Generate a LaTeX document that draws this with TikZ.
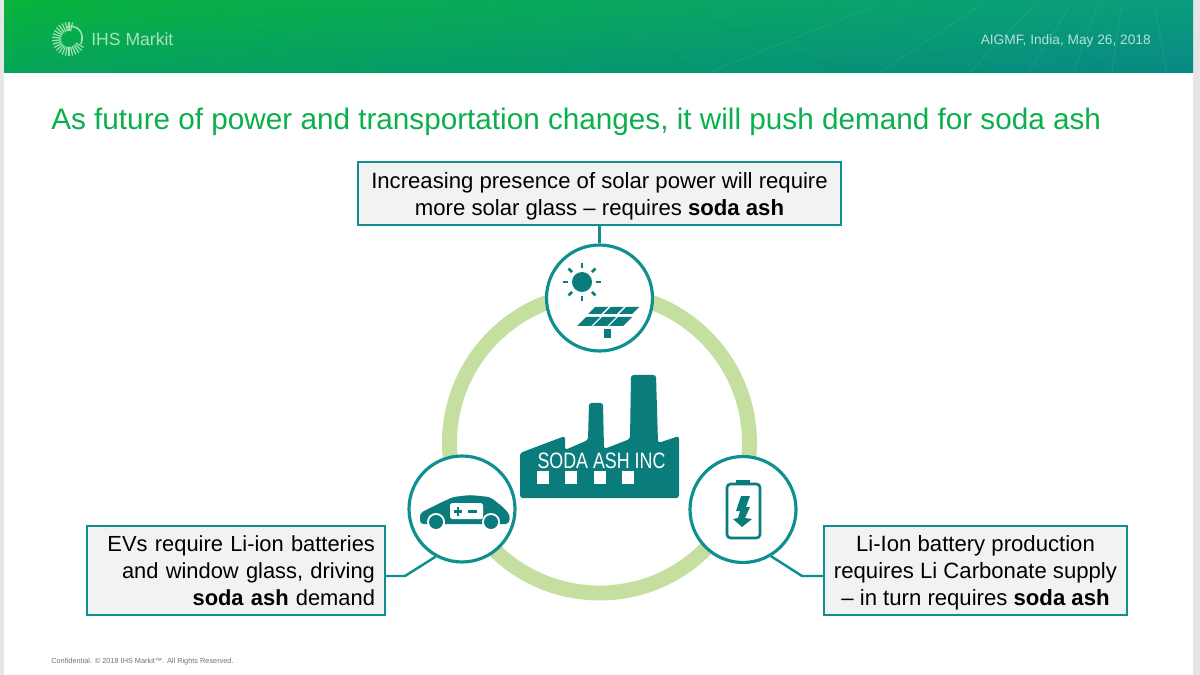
\documentclass[tikz,border=0pt]{standalone}
\usepackage{fontspec}
\setmainfont{Liberation Sans}
\usetikzlibrary{calc, positioning}
\definecolor{tealmain}{HTML}{0B7C7C}
\definecolor{tealline}{HTML}{0F9090}
\definecolor{ringgreen}{HTML}{C5DFA0}
\definecolor{titlegreen}{HTML}{0BAF4C}
\definecolor{headleft}{HTML}{08B33D}
\definecolor{headleftdark}{HTML}{05A558}
\definecolor{headright}{HTML}{0A9C7E}
\definecolor{headrightdark}{HTML}{088A85}
\definecolor{boxgrey}{HTML}{F2F2F2}
\definecolor{pagegrey}{HTML}{E6E6E6}
\tikzset{
  infobox/.style={draw=tealline, line width=1.15pt, fill=boxgrey, inner sep=0pt, align=center, font=\fontsize{12.6}{15.3}\selectfont},
  iconcircle/.style={circle, draw=tealline, line width=1.8pt, fill=white, minimum size=2.12cm, inner sep=0pt},
  linker/.style={draw=tealline, line width=1.4pt},
  iconfill/.style={fill=tealmain, draw=none}
}
\begin{document}
\begin{tikzpicture}[x=0.02cm, y=-0.02cm]
\useasboundingbox (0,0) rectangle (1200,675);

% Page and header
\fill[pagegrey] (0,0) rectangle (1200,675);
\fill[white] (4,6) rectangle (1193,675);
\foreach \i in {0,10,...,100}{
  \fill[left color=headleft!\i!headleftdark, right color=headright!\i!headrightdark] (4,{72-0.66*\i-6}) rectangle (1193,{72-0.66*\i+0.5});
}
\begin{scope}
  \clip (4,6) rectangle (1193,72);
  \coordinate (rayfocus) at (1136,-100);
  \foreach \a in {80,98,110,122,134,146,158}
    \draw[white, opacity=0.07, line width=0.5pt] (rayfocus) -- ++(\a:700);
\end{scope}
\node[text=white!65!headleft, font=\fontsize{10}{12}\selectfont, anchor=west, inner sep=0pt] (brand) at (91,39) {IHS Markit};
\node[text=white!70!headright, font=\fontsize{7.8}{9}\selectfont, anchor=east, inner sep=0pt] (event) at (1151,41) {AIGMF, India, May 26, 2018};

% Logo
\coordinate (logo) at (69,39);
\foreach \a in {30,42,...,290}
  \draw[white!60!headleft, line width=0.7pt] ($(logo)+(\a:8)$) -- ($(logo)+(\a:17)$);
\draw[white!60!headleft, line width=0.9pt] ($(logo)+(-2,-12)$) .. controls ($(logo)+(9,-15)$) and ($(logo)+(16,-6)$) .. ($(logo)+(12,5)$);

% Title
\node[text=titlegreen, font=\fontsize{16.9}{18}\selectfont, anchor=base west, inner sep=0pt] (title) at (51,130) {As future of power and transportation changes, it will push demand for soda ash};

% Ring
\draw[ringgreen, line width=8.5pt] (599.5,443) circle (150);

% Icon circles
\node[iconcircle] (solar) at (599.5,298) {};
\node[iconcircle] (car) at (462,509) {};
\node[iconcircle] (battery) at (743,509.5) {};

% Text boxes
\node[infobox, minimum width=9.68cm, minimum height=1.26cm] (solarbox) at (599.5,193.5) {\rule{0pt}{12.5pt}Increasing presence of solar power will require\\more solar glass -- requires \textbf{soda ash}};
\node[infobox, font=\fontsize{12.45}{15.3}\selectfont, inner xsep=0.2cm, text width=5.56cm, align=right, minimum height=1.78cm] (carbox) at (236,570.5) {EVs require Li-ion batteries\\and window glass, driving\\\textbf{soda ash} demand};
\node[infobox, minimum width=6.06cm, minimum height=1.78cm] (batterybox) at (975.5,570.5) {\rule{0pt}{12pt}Li-Ion battery production\\requires Li Carbonate supply\\-- in turn requires \textbf{soda ash}};

% Connectors
\coordinate (carbend) at (405,576);
\coordinate (batterybend) at (802,576);
\draw[linker] (solarbox) -- (solar);
\draw[linker] (carbox.east |- carbend) -- (carbend) -- (car.241);
\draw[linker] (batterybox.west |- batterybend) -- (batterybend) -- (battery.301);

% Factory
\fill[iconfill, rounded corners=1.5pt] (520,498) -- (679,498) -- (679,436) -- (658,443) -- (656,375) -- (631,375) -- (630,439) -- (604,449) -- (603,403) -- (589,403) -- (588,440) -- (565,450) -- (565,436) -- (520,453) -- cycle;
\node[text=white, font=\fontsize{12.7}{14}\selectfont, inner sep=0pt, xscale=0.8] (company) at (601.5,461) {SODA ASH INC};
\foreach \x in {537,565,594,622}
  \fill[white] (\x,471) rectangle +(11.5,13);

% Sun and panel
\fill[tealmain] (582,282) circle (10);
\foreach \a in {0,45,...,315}
  \draw[tealmain, line width=1.5pt] ($(582,282)+(\a:14)$) -- ($(582,282)+(\a:19)$);
\fill[tealmain] (604,329) rectangle (611,338);
\foreach \i in {0,1,2}{
  \fill[tealmain] ($(595,307)+(\i*15.5,0)$) -- +(13,0) -- +(6,7) -- +(-7,7) -- cycle;
  \fill[tealmain] ($(586,317)+(\i*16,0)$) -- +(14,0) -- +(5,9) -- +(-9,9) -- cycle;
}

% Car
\fill[tealmain, rounded corners=2pt] (420,524) -- (420,513) -- (440,503) -- (453,497) -- (470,495) -- (490,497) -- (503,507) -- (510,515) -- (509,524) -- cycle;
\foreach \x in {436,491}{
  \fill[white] (\x,522) circle (9);
  \fill[tealmain] (\x,522) circle (7);
}
\fill[white, rounded corners=1pt] (450,503) rectangle (483,519);
\fill[tealmain] (454,510) rectangle (462,512.5);
\fill[tealmain] (456.8,507) rectangle (459.2,515.5);
\fill[tealmain] (468,510) rectangle (477,512.5);

% Battery
\draw[tealmain, line width=1.5pt, rounded corners=2pt] (727,484) rectangle (760,538);
\fill[tealmain] (736,480) rectangle (750,484);
\fill[tealmain] (741,496) -- (750,496) -- (746,507) -- (750,507) -- (745,518) -- (752,519) -- (742,527) -- (733,519) -- (738,518) -- (740,511) -- (736,511) -- cycle;

% Footer
\node[text=black!55, font=\fontsize{4.18}{5}\selectfont, anchor=west, inner sep=0pt] (footer) at (51,661.5) {Confidential. © 2018 IHS Markit™. All Rights Reserved.};
\end{tikzpicture}
\end{document}
